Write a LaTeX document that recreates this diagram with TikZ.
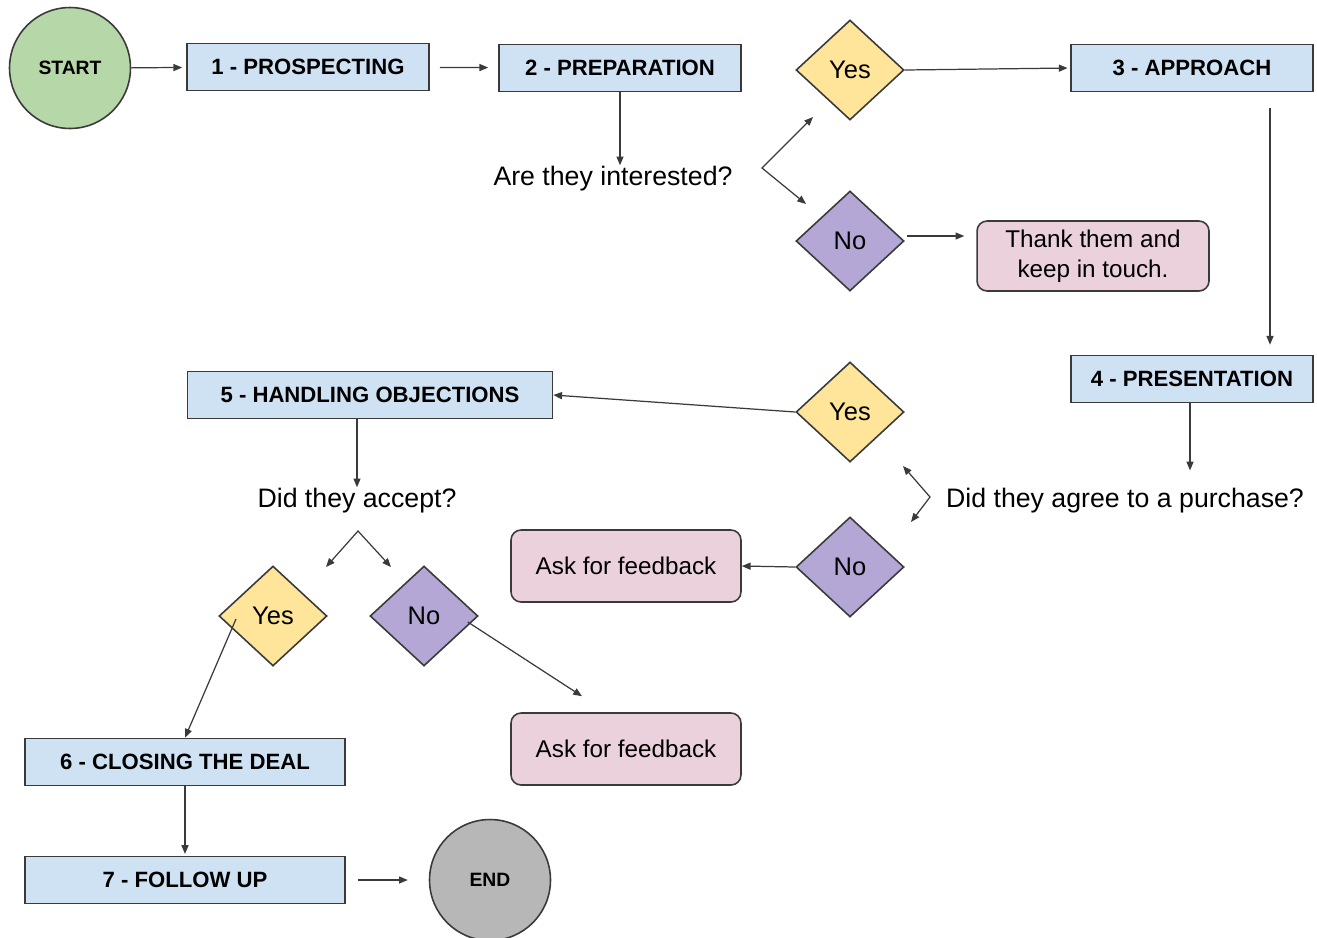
\documentclass[tikz,border=0pt]{standalone}
\usepackage{fontspec}
\setmainfont{Liberation Sans}
\usetikzlibrary{shapes.geometric,arrows.meta,calc}

\definecolor{startgreen}{HTML}{B6D7A8}
\definecolor{stepblue}{HTML}{CFE2F3}
\definecolor{yesyellow}{HTML}{FFE599}
\definecolor{nopurple}{HTML}{B4A7D6}
\definecolor{notepink}{HTML}{EAD1DC}
\definecolor{endgrey}{HTML}{B7B7B7}
\definecolor{edgegrey}{HTML}{3A3A3A}

\begin{document}
\begin{tikzpicture}[x=0.02cm, y=-0.02cm,
    terminal/.style={circle, draw=edgegrey, line width=0.9pt, minimum size=2.42cm, inner sep=0pt, font=\fontsize{11}{13}\selectfont\bfseries},
    stepbox/.style={rectangle, draw=edgegrey, line width=0.9pt, fill=stepblue, minimum width=4.84cm, minimum height=0.94cm, inner sep=0pt, font=\fontsize{12.6}{15}\selectfont\bfseries},
    answer/.style={diamond, draw=edgegrey, line width=0.9pt, minimum width=2.16cm, minimum height=2cm, inner sep=0pt, font=\fontsize{14.5}{17}\selectfont},
    note/.style={rectangle, rounded corners=0.2cm, draw=edgegrey, line width=0.9pt, fill=notepink, minimum width=4.6cm, minimum height=1.44cm, inner sep=0pt, align=center, font=\fontsize{13.8}{17}\selectfont},
    question/.style={inner sep=0pt, anchor=base, font=\fontsize{15.2}{18}\selectfont},
    arr/.style={-{Triangle[length=5pt,width=4pt]}, draw=edgegrey, line width=0.7pt},
    fork/.style={{Triangle[length=5pt,width=4pt]}-{Triangle[length=5pt,width=4pt]}, draw=edgegrey, line width=0.7pt}
]
\useasboundingbox (0,0) rectangle (1317,937);

\node[terminal, fill=startgreen] (start) at (70,68) {START};
\node[stepbox] (prosp) at (308,67) {1 - PROSPECTING};
\node[stepbox] (prep) at (620,68) {2 - PREPARATION};
\node[stepbox] (appr) at (1192,68) {3 - APPROACH};
\node[stepbox] (pres) at (1192,379) {4 - PRESENTATION};
\node[stepbox, minimum width=7.3cm] (hobj) at (370,395) {5 - HANDLING OBJECTIONS};
\node[stepbox, minimum width=6.4cm] (close) at (185,762) {6 - CLOSING THE DEAL};
\node[stepbox, minimum width=6.4cm] (follow) at (185,880) {7 - FOLLOW UP};
\node[terminal, fill=endgrey] (endc) at (490,880) {END};

\node[question] (qA) at (613,185) {Are they interested?};
\node[question] (qB) at (1125,507) {Did they agree to a purchase?};
\node[question] (qC) at (357,507) {Did they accept?};

\node[answer, fill=yesyellow] (yesA) at (850,70) {Yes};
\node[answer, fill=nopurple] (noA) at (850,241) {No};
\node[answer, fill=yesyellow] (yesB) at (850,412) {Yes};
\node[answer, fill=nopurple] (noB) at (850,567) {No};
\node[answer, fill=yesyellow] (yesC) at (273,616) {Yes};
\node[answer, fill=nopurple] (noC) at (424,616) {No};

\node[note, minimum width=4.64cm, minimum height=1.4cm] (thank) at (1093,256) {Thank them and\\keep in touch.};
\node[note] (askA) at (626,566) {Ask for feedback};
\node[note] (askB) at (626,749) {Ask for feedback};

\coordinate (fA) at (762,168);
\coordinate (fAy) at (813,117);
\coordinate (fAn) at (806,204);
\coordinate (fB) at (930,497);
\coordinate (fBy) at (903,466);
\coordinate (fBn) at (911,522);
\coordinate (fC) at (358,531);
\coordinate (fCy) at (326,567);
\coordinate (fCn) at (391,567);
\coordinate (pB) at ($(pres.south)+(-2,0)$);

\draw[arr, shorten >=2.3pt] (start) -- (prosp);
\draw[arr, shorten <=5.7pt, shorten >=5.7pt] (prosp) -- (prep);
\draw[arr] (prep.south) -- (prep.south |- qA.north);
\draw[fork] (fAy) -- (fA) -- (fAn);
\draw[arr, shorten >=1.5pt] (yesA.east) -- (appr.west);
\draw[arr, shorten >=6.8pt] ($(noA.east)+(2,-5)$) -- ($(thank.west)+(0,-20)$);
\draw[arr, shorten <=9pt, shorten >=5.7pt] ($(appr.south)+(78,0)$) -- ($(pres.north)+(78,0)$);
\draw[arr, shorten >=9.6pt] (pB) -- (pB |- qB.north);
\draw[fork] (fBy) -- (fB) -- (fBn);
\draw[arr] (yesB.west) -- (hobj.east);
\draw[arr] (hobj.south -| qC.north) -- (qC.north);
\draw[fork] (fCy) -- (fC) -- (fCn);
\draw[arr] (noB.west) -- (askA.east);
\draw[arr] ($(noC.east)+(-11,6)$) -- ($(askB.north)+(-44,-16)$);
\draw[arr] ($(yesC.center)+(-37,3)$) -- (close.north);
\draw[arr, shorten >=1pt] (close) -- (follow);
\draw[arr, shorten <=6.8pt, shorten >=11.9pt] (follow) -- (endc);
\end{tikzpicture}
\end{document}
